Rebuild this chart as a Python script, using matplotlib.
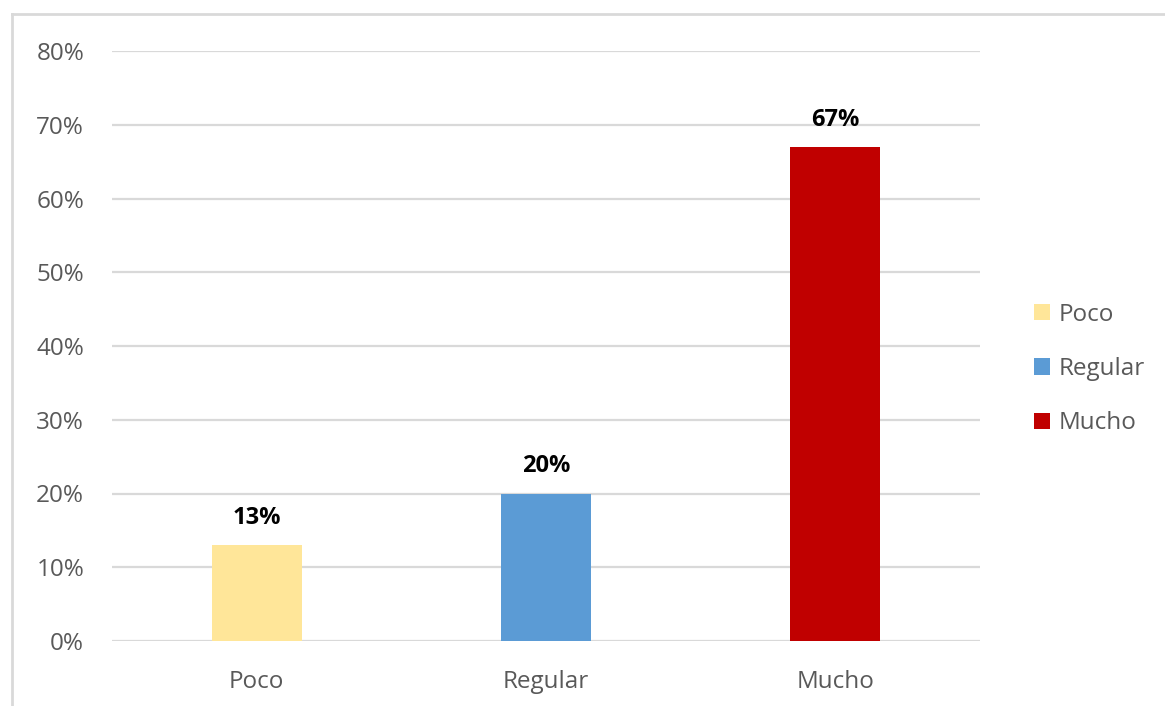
import matplotlib
matplotlib.use("Agg")
import matplotlib.pyplot as plt
from matplotlib.lines import Line2D
from matplotlib.patches import Patch

categories = ["Poco", "Regular", "Mucho"]
values = [13, 20, 67]
colors = ["#FFE699", "#5B9BD5", "#C00000"]
yticks = [0, 10, 20, 30, 40, 50, 60, 70, 80]
ytick_labels = [f"{v}%" for v in yticks]

plt.rcParams['font.family'] = ['Open Sans', 'DejaVu Sans']

fig = plt.figure(figsize=(11.65, 7.06), dpi=100)
ax = fig.add_axes([112/1165, 1-641/706, (980-112)/1165, (641-51)/706])

x = list(range(len(categories)))
bars = ax.bar(x, values, width=0.31, color=colors, zorder=3)
ax.set_xlim(-0.5, 2.5)
ax.set_ylim(0, 80)
ax.set_yticks(yticks)
ax.set_yticklabels(ytick_labels)
ax.set_xticks(x)
ax.set_xticklabels(categories)
ax.tick_params(axis='both', length=0, labelsize=17.5, labelcolor="#595959")
ax.tick_params(axis='y', pad=20)
ax.tick_params(axis='x', pad=21)
ax.grid(axis='y', color="#D9D9D9", linewidth=1.6, zorder=0)
for s in ax.spines.values():
    s.set_visible(False)

for xi, v in zip(x, values):
    ax.annotate(f"{v}%", (xi, v), xytext=(0, 11), textcoords="offset points",
                ha="center", va="bottom", fontsize=17, fontweight="bold", color="black")

handles = [Patch(facecolor=c, edgecolor='none') for c in colors]
leg = fig.legend(handles, categories, loc="center left", bbox_to_anchor=(1012/1165, 1-369/706),
                 frameon=False, fontsize=17.5, handlelength=0.65, handleheight=0.65,
                 handletextpad=0.35, labelspacing=1.25)
for t in leg.get_texts():
    t.set_color("#595959")

# outer chart border (top and left visible)
fig.add_artist(Line2D([12/1165, 12/1165], [0, 1-14/706], color="#D9D9D9", linewidth=2, transform=fig.transFigure))
fig.add_artist(Line2D([12/1165, 1], [1-14/706, 1-14/706], color="#D9D9D9", linewidth=2, transform=fig.transFigure))

fig.savefig("out.png", dpi=100, facecolor="white")
